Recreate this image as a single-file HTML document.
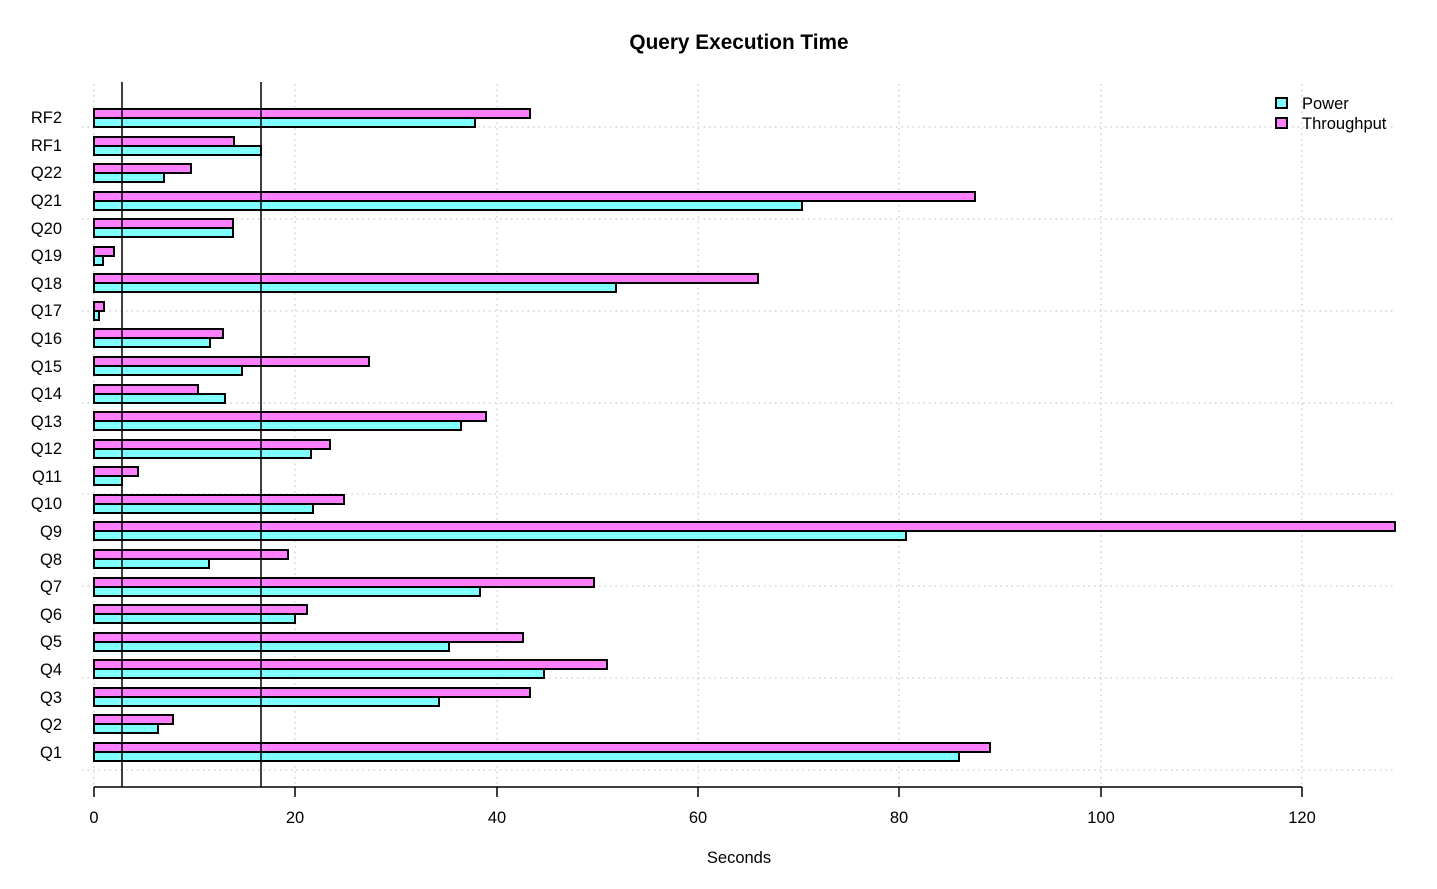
<!DOCTYPE html>
<html><head><meta charset="utf-8"><style>body{margin:0;background:#fff}svg{display:block}text{font-family:"Liberation Sans",sans-serif}</style></head>
<body>
<svg width="1437" height="889" viewBox="0 0 1437 889" xmlns="http://www.w3.org/2000/svg">
<rect width="1437" height="889" fill="#fff"/>
<text x="739" y="49" text-anchor="middle" font-size="20.8" font-weight="bold">Query Execution Time</text>
<g stroke="#bbb" stroke-width="1" stroke-dasharray="1.5,4">
<line x1="94" y1="84" x2="94" y2="787"/><line x1="295" y1="84" x2="295" y2="787"/><line x1="497" y1="84" x2="497" y2="787"/><line x1="698" y1="84" x2="698" y2="787"/><line x1="899" y1="84" x2="899" y2="787"/><line x1="1101" y1="84" x2="1101" y2="787"/><line x1="1302" y1="84" x2="1302" y2="787"/>
<line x1="82" y1="127" x2="1396" y2="127"/><line x1="82" y1="219" x2="1396" y2="219"/><line x1="82" y1="311" x2="1396" y2="311"/><line x1="82" y1="403" x2="1396" y2="403"/><line x1="82" y1="494" x2="1396" y2="494"/><line x1="82" y1="586" x2="1396" y2="586"/><line x1="82" y1="678" x2="1396" y2="678"/><line x1="82" y1="770" x2="1396" y2="770"/>
</g>
<g stroke="#000" stroke-width="2">
<rect x="94" y="743" width="896" height="9" fill="#ff80ff"/><rect x="94" y="752" width="865" height="9" fill="#80ffff"/>
<rect x="94" y="715" width="79" height="9" fill="#ff80ff"/><rect x="94" y="724" width="64" height="9" fill="#80ffff"/>
<rect x="94" y="688" width="436" height="9" fill="#ff80ff"/><rect x="94" y="697" width="345" height="9" fill="#80ffff"/>
<rect x="94" y="660" width="513" height="9" fill="#ff80ff"/><rect x="94" y="669" width="450" height="9" fill="#80ffff"/>
<rect x="94" y="633" width="429" height="9" fill="#ff80ff"/><rect x="94" y="642" width="355" height="9" fill="#80ffff"/>
<rect x="94" y="605" width="213" height="9" fill="#ff80ff"/><rect x="94" y="614" width="201" height="9" fill="#80ffff"/>
<rect x="94" y="578" width="500" height="9" fill="#ff80ff"/><rect x="94" y="587" width="386" height="9" fill="#80ffff"/>
<rect x="94" y="550" width="194" height="9" fill="#ff80ff"/><rect x="94" y="559" width="115" height="9" fill="#80ffff"/>
<rect x="94" y="522" width="1301" height="9" fill="#ff80ff"/><rect x="94" y="531" width="812" height="9" fill="#80ffff"/>
<rect x="94" y="495" width="250" height="9" fill="#ff80ff"/><rect x="94" y="504" width="219" height="9" fill="#80ffff"/>
<rect x="94" y="467" width="44" height="9" fill="#ff80ff"/><rect x="94" y="476" width="28" height="9" fill="#80ffff"/>
<rect x="94" y="440" width="236" height="9" fill="#ff80ff"/><rect x="94" y="449" width="217" height="9" fill="#80ffff"/>
<rect x="94" y="412" width="392" height="9" fill="#ff80ff"/><rect x="94" y="421" width="367" height="9" fill="#80ffff"/>
<rect x="94" y="385" width="104" height="9" fill="#ff80ff"/><rect x="94" y="394" width="131" height="9" fill="#80ffff"/>
<rect x="94" y="357" width="275" height="9" fill="#ff80ff"/><rect x="94" y="366" width="148" height="9" fill="#80ffff"/>
<rect x="94" y="329" width="129" height="9" fill="#ff80ff"/><rect x="94" y="338" width="116" height="9" fill="#80ffff"/>
<rect x="94" y="302" width="10" height="9" fill="#ff80ff"/><rect x="94" y="311" width="5" height="9" fill="#80ffff"/>
<rect x="94" y="274" width="664" height="9" fill="#ff80ff"/><rect x="94" y="283" width="522" height="9" fill="#80ffff"/>
<rect x="94" y="247" width="20" height="9" fill="#ff80ff"/><rect x="94" y="256" width="9" height="9" fill="#80ffff"/>
<rect x="94" y="219" width="139" height="9" fill="#ff80ff"/><rect x="94" y="228" width="139" height="9" fill="#80ffff"/>
<rect x="94" y="192" width="881" height="9" fill="#ff80ff"/><rect x="94" y="201" width="708" height="9" fill="#80ffff"/>
<rect x="94" y="164" width="97" height="9" fill="#ff80ff"/><rect x="94" y="173" width="70" height="9" fill="#80ffff"/>
<rect x="94" y="137" width="140" height="9" fill="#ff80ff"/><rect x="94" y="146" width="167" height="9" fill="#80ffff"/>
<rect x="94" y="109" width="436" height="9" fill="#ff80ff"/><rect x="94" y="118" width="381" height="9" fill="#80ffff"/>
</g>
<g stroke="#000" stroke-width="1.5">
<line x1="122" y1="82" x2="122" y2="787"/><line x1="261" y1="82" x2="261" y2="787"/>
</g>
<g stroke="#000" stroke-width="1.5">
<line x1="94" y1="787" x2="1302" y2="787"/>
<line x1="94" y1="787" x2="94" y2="797"/><line x1="295" y1="787" x2="295" y2="797"/><line x1="497" y1="787" x2="497" y2="797"/><line x1="698" y1="787" x2="698" y2="797"/><line x1="899" y1="787" x2="899" y2="797"/><line x1="1101" y1="787" x2="1101" y2="797"/><line x1="1302" y1="787" x2="1302" y2="797"/>
</g>
<g font-size="16.5" text-anchor="middle">
<text x="94" y="823">0</text><text x="295" y="823">20</text><text x="497" y="823">40</text><text x="698" y="823">60</text><text x="899" y="823">80</text><text x="1101" y="823">100</text><text x="1302" y="823">120</text>
<text x="739" y="863">Seconds</text>
</g>
<g font-size="16.5" text-anchor="end">
<text x="62" y="758">Q1</text><text x="62" y="730">Q2</text><text x="62" y="703">Q3</text><text x="62" y="675">Q4</text><text x="62" y="647">Q5</text><text x="62" y="620">Q6</text><text x="62" y="592">Q7</text><text x="62" y="565">Q8</text><text x="62" y="537">Q9</text><text x="62" y="509">Q10</text><text x="62" y="482">Q11</text><text x="62" y="454">Q12</text><text x="62" y="427">Q13</text><text x="62" y="399">Q14</text><text x="62" y="372">Q15</text><text x="62" y="344">Q16</text><text x="62" y="316">Q17</text><text x="62" y="289">Q18</text><text x="62" y="261">Q19</text><text x="62" y="234">Q20</text><text x="62" y="206">Q21</text><text x="62" y="178">Q22</text><text x="62" y="151">RF1</text><text x="62" y="123">RF2</text>
</g>
<rect x="1276" y="98" width="11" height="10" fill="#80ffff" stroke="#000" stroke-width="2"/>
<rect x="1276" y="118" width="11" height="10" fill="#ff80ff" stroke="#000" stroke-width="2"/>
<text x="1302" y="109" font-size="16.5">Power</text>
<text x="1302" y="129" font-size="16.5">Throughput</text>
</svg>
</body></html>
